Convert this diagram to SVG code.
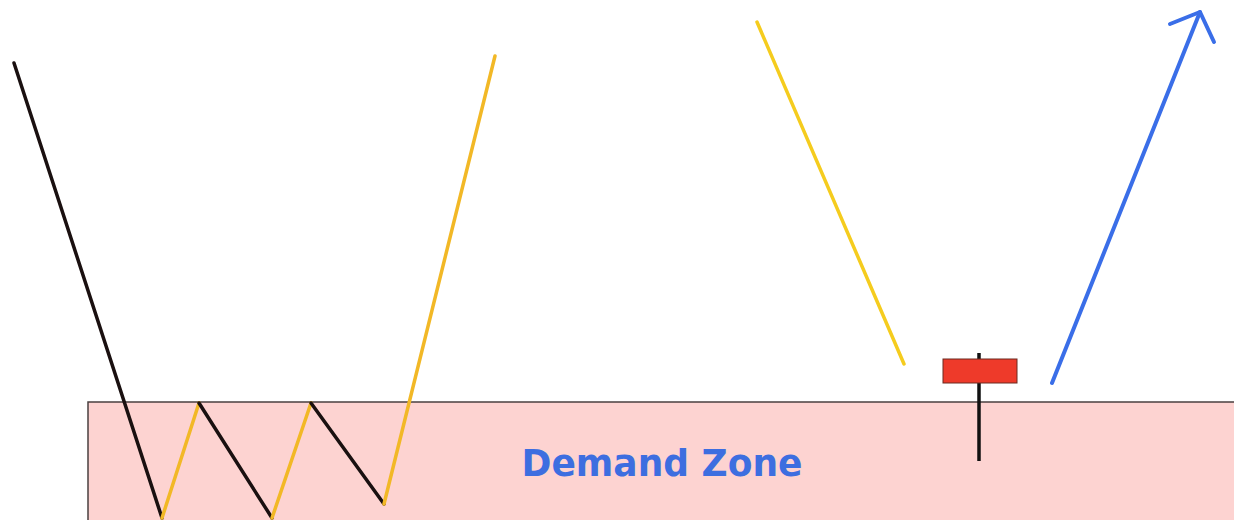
<svg xmlns="http://www.w3.org/2000/svg" width="1234" height="520" viewBox="0 0 1234 520">
<style>
.blk{stroke:#1a1010;stroke-width:3.5;fill:none;stroke-linecap:round}
.yel{stroke:#f2b826;stroke-width:3.5;fill:none;stroke-linecap:round}
.yel2{stroke:#f5cc1e;stroke-width:3.5;fill:none;stroke-linecap:round}
.blue{stroke:#3a6ee8;stroke-width:4;fill:none;stroke-linecap:round;stroke-linejoin:round}
</style>
<rect width="1234" height="520" fill="#ffffff"/>
<g id="zone">
<rect x="88" y="402" width="1150" height="130" fill="#fdd3d1" stroke="#4a4040" stroke-width="1.5"/>
<text x="662" y="476" text-anchor="middle" font-family="DejaVu Sans, Verdana, sans-serif" font-weight="bold" font-size="38" fill="#3d6ee0" textLength="281" lengthAdjust="spacingAndGlyphs">Demand Zone</text>
</g>
<g id="connectors">
<line class="blk" x1="14" y1="63" x2="162" y2="518"/>
<line class="yel" x1="162" y1="518" x2="199" y2="403"/>
<line class="blk" x1="199" y1="403" x2="272" y2="518"/>
<line class="yel" x1="272" y1="518" x2="311" y2="403"/>
<line class="blk" x1="311" y1="403" x2="384" y2="504"/>
<line class="yel" x1="384" y1="504" x2="495" y2="56"/>
<line class="yel2" x1="757" y1="22" x2="904" y2="364"/>
<line class="blue" x1="1052" y1="383" x2="1200" y2="12"/>
<polyline class="blue" points="1170,24 1200,12 1214,42"/>
</g>
<g id="candle">
<line x1="979" y1="353" x2="979" y2="461" stroke="#111" stroke-width="3.5"/>
<rect x="943" y="359" width="74" height="24" fill="#ee3a2a" stroke="#6a2a20" stroke-width="1"/>
</g>
</svg>
